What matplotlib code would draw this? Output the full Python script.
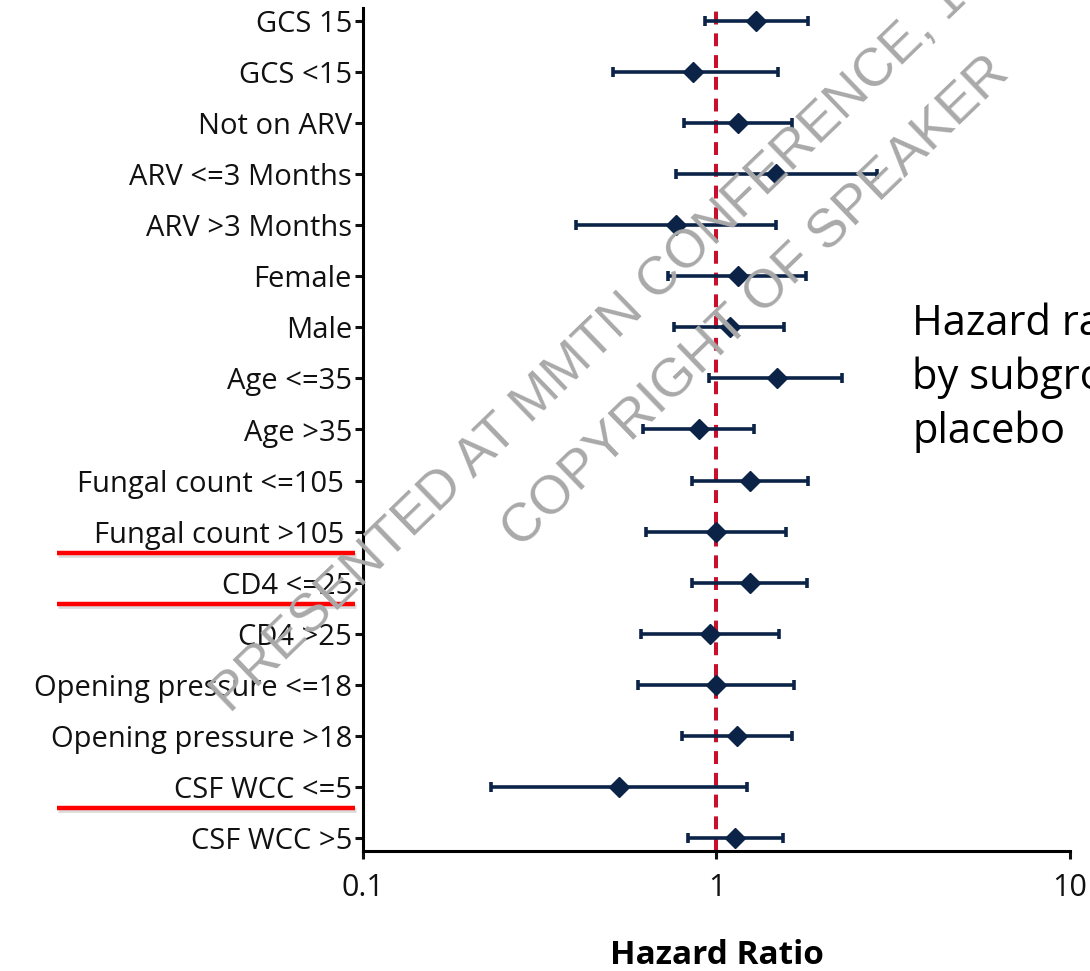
import matplotlib
matplotlib.use("Agg")
from matplotlib import pyplot as plt
import matplotlib.transforms as mtransforms
import numpy as np

# Subgroup hazard ratios with 95% confidence limits
subgroups = ["GCS 15", "GCS <15", "Not on ARV", "ARV <=3 Months", "ARV >3 Months",
             "Female", "Male", "Age <=35", "Age >35", "Fungal count <=105 ",
             "Fungal count >105 ", "CD4 <=25", "CD4 >25", "Opening pressure <=18",
             "Opening pressure >18", "CSF WCC <=5", "CSF WCC >5"]
hr = [1.29, 0.86, 1.15, 1.47, 0.77, 1.15, 1.09, 1.48, 0.89, 1.24, 1.00,
      1.24, 0.96, 1.00, 1.14, 0.53, 1.13]
ci_low = [0.93, 0.51, 0.81, 0.77, 0.40, 0.73, 0.76, 0.95, 0.62, 0.855, 0.63,
          0.855, 0.61, 0.60, 0.80, 0.23, 0.83]
ci_high = [1.81, 1.49, 1.63, 2.84, 1.47, 1.79, 1.55, 2.27, 1.28, 1.81, 1.57,
           1.80, 1.50, 1.66, 1.63, 1.22, 1.54]
underlined = ["Fungal count >105 ", "CD4 <=25", "CSF WCC <=5"]
xticks = [0.1, 1, 10]
xticklabels = ["0.1", "1", "10"]
side_note = ["Hazard ra", "by subgro", "placebo"]

navy = "#0b2347"
plt.rcParams["font.family"] = ["Open Sans", "DejaVu Sans"]

fig = plt.figure(figsize=(10.9, 9.71), dpi=100)
ax = fig.add_axes([363 / 1090, 120 / 971, 707 / 1090, 843 / 971])

y = np.arange(len(subgroups))
hr_a = np.array(hr)
err = np.vstack([hr_a - np.array(ci_low), np.array(ci_high) - hr_a])

ax.axvline(1, color="#c8102e", lw=2.9, dashes=(3.2, 2.2), zorder=1)
ax.errorbar(hr_a, y, xerr=err, fmt="D", color=navy, ms=10.5, elinewidth=2.6,
            capsize=3.6, capthick=2.6, zorder=3)

ax.set_xscale("log")
ax.set_xlim(0.1, 10)
ax.set_ylim(len(subgroups) - 0.75, -0.25)
ax.set_xticks(xticks)
ax.set_xticklabels(xticklabels)
ax.minorticks_off()
ax.set_yticks(y)
ax.set_yticklabels(subgroups)

for side in ["top", "right"]:
    ax.spines[side].set_visible(False)
for side in ["left", "bottom"]:
    ax.spines[side].set_linewidth(2.2)
ax.tick_params(axis="both", length=6, width=2.2, colors="#111111")
ax.tick_params(axis="y", pad=2, labelsize=21)
ax.tick_params(axis="x", pad=10, labelsize=22)

ax.set_xlabel("Hazard Ratio", fontsize=24, fontweight="bold")
ax.xaxis.set_label_coords(0.5, -0.104)

# red underline below selected subgroup labels
trans = mtransforms.blended_transform_factory(ax.transAxes, ax.transData)
shadow = trans + mtransforms.ScaledTranslation(1 / 100, -2 / 100, fig.dpi_scale_trans)
for name in underlined:
    i = subgroups.index(name)
    ax.plot([-0.433, -0.012], [i + 0.41, i + 0.41], color="#bbbbbb", lw=3.5,
            alpha=0.5, transform=shadow, clip_on=False, solid_capstyle="butt")
    ax.plot([-0.433, -0.012], [i + 0.41, i + 0.41], color="#ff0000", lw=3.2,
            transform=trans, clip_on=False, solid_capstyle="butt")

fig.text(912 / 1090, 1 - 303 / 971, "\n".join(side_note),
         fontsize=30, ha="left", va="top", linespacing=1.36, color="black")

# diagonal watermark
wm = dict(color="#a9a9a9", rotation=44, rotation_mode="anchor",
          ha="left", va="baseline", family="Liberation Sans", zorder=10)
fig.text(230 / 1090, 1 - 714 / 971, "PRESENTED AT MMTN CONFERENCE, 1",
         fontsize=38.5, **wm)
fig.text(521 / 1090, 1 - 550 / 971, "COPYRIGHT OF SPEAKER", fontsize=39, **wm)

fig.savefig("out.png", dpi=100)
